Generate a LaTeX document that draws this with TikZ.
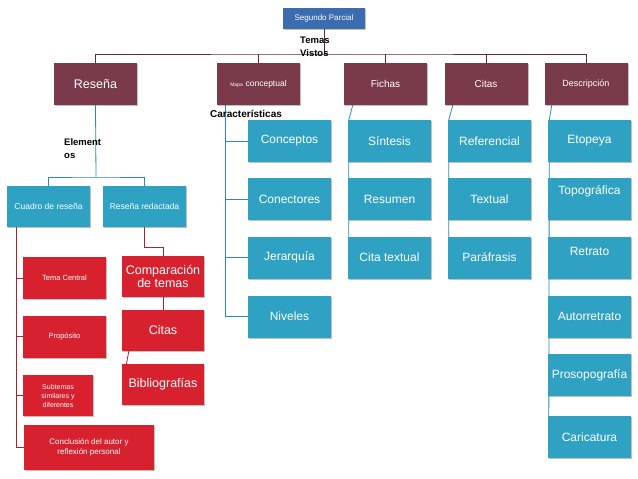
\documentclass[tikz,border=0pt]{standalone}
\usepackage{fontspec}
\setmainfont{Liberation Sans}
\usetikzlibrary{calc,backgrounds,shadows}
\definecolor{cmaroon}{HTML}{7A3A4A}
\definecolor{cteal}{HTML}{2FA2C3}
\definecolor{cred}{HTML}{D8212F}
\definecolor{cblue}{HTML}{3C6CB0}
\definecolor{ctopline}{HTML}{5E2B37}
\definecolor{ctline}{HTML}{2A8DAE}
\definecolor{crline}{HTML}{A8232F}
\begin{document}
\begin{tikzpicture}[x=1pt,y=-1pt,
  boxbase/.style={draw=none, text=white, inner sep=1pt, align=center,
    minimum width=83pt, minimum height=42pt,
    drop shadow={shadow xshift=1pt, shadow yshift=-1.3pt, opacity=0.35, fill=black!70}},
  spbox/.style={boxbase, fill=cblue, minimum width=82pt, minimum height=21pt, font=\fontsize{8}{9}\selectfont},
  topbox/.style={boxbase, fill=cmaroon},
  tealbox/.style={boxbase, fill=cteal, font=\fontsize{12}{13.5}\selectfont},
  smallteal/.style={boxbase, fill=cteal, minimum height=41pt, font=\fontsize{8.5}{10}\selectfont},
  redsmall/.style={boxbase, fill=cred, font=\fontsize{7.5}{9}\selectfont},
  redbig/.style={boxbase, fill=cred, minimum width=82pt, minimum height=41pt, font=\fontsize{12.5}{13.5}\selectfont},
  lbl/.style={font=\fontsize{9.5}{13}\bfseries\selectfont, inner sep=0pt, align=left, anchor=north west},
  topline/.style={draw=ctopline, line width=0.9pt},
  tline/.style={draw=ctline, line width=0.8pt},
  rline/.style={draw=crline, line width=0.8pt}
]
\useasboundingbox (0,0) rectangle (638,479);

% root
\node[spbox] (sp) at (324,18.5) {Segundo Parcial};

% top row
\node[topbox, font=\fontsize{12.5}{14}\selectfont] (resena) at (95.5,84) {Reseña};
\node[topbox] (mapa) at (258.5,84) {{\fontsize{5}{6}\selectfont Mapa} {\fontsize{8.5}{10}\selectfont conceptual}};
\node[topbox, font=\fontsize{10}{12}\selectfont] (fichas) at (385.5,84) {Fichas};
\node[topbox, font=\fontsize{10}{12}\selectfont] (citas) at (486,84) {Citas};
\node[topbox, font=\fontsize{9}{11}\selectfont] (desc) at (586,84) {Descripción};

% labels
\node[lbl] (temas) at (300,37) {Temas\\Vistos};
\node[lbl] (elem) at (64,138) {Element\\os};
\node[lbl, font=\fontsize{10}{12}\bfseries\selectfont] (carac) at (210,110) {Características};

% Mapa conceptual children
\node[tealbox] (conc) at (289.5,141) {Conceptos};
\node[tealbox] (conect) at (289.5,199) {Conectores};
\node[tealbox] (jer) at (289.5,257.5) {Jerarquía};
\node[tealbox] (niv) at (289.5,316.5) {Niveles};

% Fichas children
\node[tealbox] (sint) at (389.5,141) {Síntesis};
\node[tealbox] (resum) at (389.5,199) {Resumen};
\node[tealbox] (citat) at (389.5,257.5) {Cita textual};

% Citas children
\node[tealbox] (refer) at (489.5,141) {Referencial};
\node[tealbox] (textu) at (489.5,199) {Textual};
\node[tealbox] (paraf) at (489.5,257.5) {Paráfrasis};

% Descripcion children
\node[tealbox] (eto) at (589.5,141) {Etopeya};
\node[tealbox, text height=8pt, text depth=18pt] (topo) at (589.5,199) {Topográfica};
\node[tealbox, text height=8pt, text depth=12pt] (retr) at (589.5,257.5) {Retrato};
\node[tealbox] (autor) at (589.5,316.5) {Autorretrato};
\node[tealbox] (proso) at (589.5,375) {Prosopografía};
\node[tealbox] (cari) at (589.5,437) {Caricatura};

% Resena children
\node[smallteal] (cuadro) at (48.5,206.5) {Cuadro de reseña};
\node[smallteal] (redact) at (144.5,206.5) {Reseña redactada};

\node[redsmall] (tema) at (64.5,278) {Tema Central};
\node[redsmall] (prop) at (64.5,336.5) {Propósito};
\node[redsmall, minimum width=70pt, minimum height=41pt, font=\fontsize{7}{9}\selectfont] (subt) at (58,395.5) {Subtemas\\similares y\\diferentes};
\node[redsmall, minimum width=130pt, minimum height=45pt, font=\fontsize{8}{10}\selectfont] (concl) at (89,447.5) {Conclusión del autor y\\reflexión personal};

\node[redbig] (comp) at (163,276.5) {Comparación\\de temas};
\node[redbig] (citasb) at (163,330.5) {Citas};
\node[redbig] (biblio) at (163,384) {Bibliografías};

% connectors
\begin{scope}[on background layer]
  \fill[white] (0,0) rectangle (638,479);
  \coordinate (bar) at (324,54);
  \draw[topline] (sp.south) -- (bar);
  \draw[topline] (resena.north) |- (bar) -| (desc.north);
  \draw[topline] (mapa.north) -- (mapa.north |- bar);
  \draw[topline] (fichas.north) -- (fichas.north |- bar);
  \draw[topline] (citas.north) -- (citas.north |- bar);

  \coordinate (rj) at (96,177);
  \draw[tline] (resena.south) -- (rj);
  \draw[tline] (cuadro.north) |- (rj) -| (redact.north);

  \coordinate (ct) at (16,227);
  \foreach \n in {tema,prop,subt,concl} \draw[rline] (ct) |- (\n.west);

  \draw[rline] (redact.south) -- ++(0,20) -| (comp.north);
  \draw[rline] (comp.south) -- (citasb.north);
  \draw[rline] ($(citasb.south west)+(7,0)$) -- ($(biblio.west)+(1,0)$);

  \coordinate (mt) at ($(mapa.south west)+(9,0)$);
  \foreach \n in {conc,conect,jer,niv} \draw[tline] (mt) |- (\n.west);

  \draw[tline] ($(fichas.south west)+(9,0)$) -- ($(sint.north west)+(1,0)$) -- ($(citat.west)+(1,0)$);
  \draw[tline] ($(citas.south west)+(8.5,0)$) -- ($(refer.north west)+(1,0)$) -- ($(paraf.west)+(1,0)$);
  \draw[tline] ($(desc.south west)+(7.5,0)$) -- ($(eto.north west)+(1.5,0)$) -- ($(cari.west)+(1,0)$);
\end{scope}
\end{tikzpicture}
\end{document}
